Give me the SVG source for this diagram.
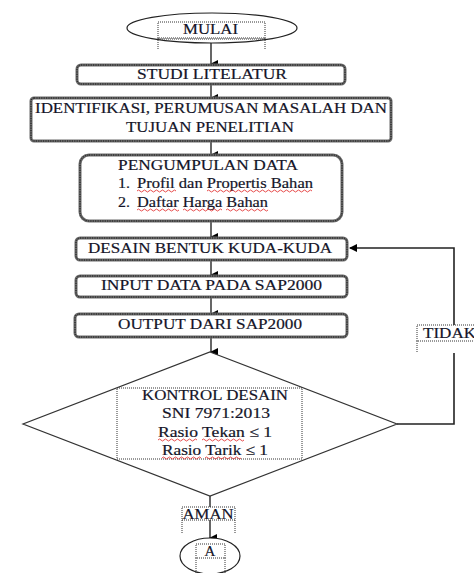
<svg xmlns="http://www.w3.org/2000/svg" width="474" height="573" viewBox="0 0 474 573">
<defs>
<marker id="ah" markerWidth="8" markerHeight="8" refX="4" refY="7" orient="auto" markerUnits="userSpaceOnUse" viewBox="0 0 8 8">
<path d="M0,0 L8,0 L4,8 Z" fill="#000"/>
</marker>
<marker id="al" markerWidth="8" markerHeight="8" refX="7" refY="4" orient="auto" markerUnits="userSpaceOnUse" viewBox="0 0 8 8">
<path d="M0,0 L8,4 L0,8 Z" fill="#000"/>
</marker>
</defs>
<style>
text{font-family:"Liberation Serif","Times New Roman",serif;font-size:15px;fill:#141428;stroke:#141428;stroke-width:0.2}
.c{text-anchor:middle}
.outer{fill:#fff;stroke:#6a6a6a;stroke-width:3}
.inner{fill:none;stroke:#111;stroke-width:1;stroke-dasharray:1.2 1.2}
.dot{fill:none;stroke:#333;stroke-width:1;stroke-dasharray:1 1}
.ln{fill:none;stroke:#000;stroke-width:1.2}
.fb{fill:none;stroke:#222;stroke-width:1.6}
.sq{fill:none;stroke:#e02020;stroke-width:0.8}
</style>
<rect width="474" height="573" fill="#fff"/>
<g id="connectors">
<line class="ln" x1="211" y1="43" x2="211" y2="64" marker-end="url(#ah)"/>
<line class="ln" x1="211" y1="84" x2="211" y2="98" marker-end="url(#ah)"/>
<line class="ln" x1="211" y1="141" x2="211" y2="155" marker-end="url(#ah)"/>
<line class="ln" x1="211" y1="221" x2="211" y2="237" marker-end="url(#ah)"/>
<line class="ln" x1="211" y1="260" x2="211" y2="275" marker-end="url(#ah)"/>
<line class="ln" x1="211" y1="297" x2="211" y2="314" marker-end="url(#ah)"/>
<line class="ln" x1="211" y1="337" x2="211" y2="352" marker-end="url(#ah)"/>
<polyline class="fb" points="397,424 454,424 454,353"/>
<polyline class="fb" points="454,325 454,248 350,248" marker-end="url(#al)"/>
<line class="ln" x1="210" y1="496" x2="210" y2="507"/>
<line class="ln" x1="210" y1="520" x2="210" y2="538" marker-end="url(#ah)"/>
</g>
<g id="mulai">
<ellipse cx="212" cy="28" rx="85" ry="15" fill="#fff" stroke="#222" stroke-width="1.2"/>
<rect class="dot" x="158" y="22" width="107" height="16"/>
<line class="dot" x1="158" y1="39" x2="265" y2="39"/>
<line class="dot" x1="158" y1="38" x2="158" y2="50"/>
<line class="dot" x1="265" y1="38" x2="265" y2="50"/>
<text class="c" x="210.5" y="34" textLength="55" lengthAdjust="spacingAndGlyphs">MULAI</text>
</g>
<g id="studi">
<rect class="outer" x="77" y="65" width="268" height="19" rx="4"/>
<rect class="inner" x="77" y="65" width="268" height="19" rx="4"/>
<text class="c" x="212" y="79" textLength="150" lengthAdjust="spacingAndGlyphs">STUDI LITELATUR</text>
</g>
<g id="identifikasi">
<rect class="outer" x="31" y="98" width="360" height="43" rx="3"/>
<rect class="inner" x="31" y="98" width="360" height="43" rx="3"/>
<text class="c" x="211" y="113" textLength="352" lengthAdjust="spacingAndGlyphs">IDENTIFIKASI, PERUMUSAN MASALAH DAN</text>
<text class="c" x="210" y="132" textLength="168" lengthAdjust="spacingAndGlyphs">TUJUAN PENELITIAN</text>
</g>
<g id="pengumpulan">
<rect class="outer" x="80" y="155" width="262" height="66" rx="9"/>
<rect class="inner" x="80" y="155" width="262" height="66" rx="9"/>
<text class="c" x="208" y="170" textLength="180" lengthAdjust="spacingAndGlyphs">PENGUMPULAN DATA</text>
<text x="118" y="188" textLength="12" lengthAdjust="spacingAndGlyphs">1.</text>
<text x="137" y="188" textLength="176" lengthAdjust="spacingAndGlyphs">Profil dan Propertis Bahan</text>
<text x="118" y="207" textLength="12" lengthAdjust="spacingAndGlyphs">2.</text>
<text x="137" y="207" textLength="131" lengthAdjust="spacingAndGlyphs">Daftar Harga Bahan</text>
<path class="sq" d="M137,191 q1.5,-2 3,0 t3,0 t3,0 t3,0 t3,0 t3,0 t3,0 t3,0 t3,0 t3,0 t3,0 t3,0 t3,0"/>
<path class="sq" d="M207,191 q1.5,-2 3,0 t3,0 t3,0 t3,0 t3,0 t3,0 t3,0 t3,0 t3,0 t3,0 t3,0 t3,0 t3,0 t3,0 t3,0 t3,0 t3,0 t3,0 t3,0 t3,0 t3,0 t3,0 t3,0 t3,0 t3,0 t3,0 t3,0 t3,0 t3,0 t3,0 t3,0 t3,0 t3,0 t3,0 t3,0"/>
<path class="sq" d="M137,210 q1.5,-2 3,0 t3,0 t3,0 t3,0 t3,0 t3,0 t3,0 t3,0 t3,0 t3,0 t3,0 t3,0 t3,0 t3,0"/>
<path class="sq" d="M183,210 q1.5,-2 3,0 t3,0 t3,0 t3,0 t3,0 t3,0 t3,0 t3,0 t3,0 t3,0 t3,0 t3,0 t3,0"/>
<path class="sq" d="M226,210 q1.5,-2 3,0 t3,0 t3,0 t3,0 t3,0 t3,0 t3,0 t3,0 t3,0 t3,0 t3,0 t3,0 t3,0 t3,0"/>
</g>
<g id="desain">
<rect class="outer" x="76" y="238" width="271" height="22" rx="4"/>
<rect class="inner" x="76" y="238" width="271" height="22" rx="4"/>
<text class="c" x="210" y="253" textLength="244" lengthAdjust="spacingAndGlyphs">DESAIN BENTUK KUDA-KUDA</text>
</g>
<g id="input">
<rect class="outer" x="76" y="276" width="271" height="21" rx="4"/>
<rect class="inner" x="76" y="276" width="271" height="21" rx="4"/>
<text class="c" x="211.5" y="290" textLength="221" lengthAdjust="spacingAndGlyphs">INPUT DATA PADA SAP2000</text>
</g>
<g id="output">
<rect class="outer" x="75" y="314" width="272" height="23" rx="4"/>
<rect class="inner" x="75" y="314" width="272" height="23" rx="4"/>
<text class="c" x="210" y="329" textLength="184" lengthAdjust="spacingAndGlyphs">OUTPUT DARI SAP2000</text>
</g>
<g id="kontrol">
<polygon points="210,352 397,424 210,496 23,424" fill="#fff" stroke="#333" stroke-width="1.2"/>
<rect class="dot" x="117" y="388" width="185" height="71"/>
<text class="c" x="215" y="400" textLength="146" lengthAdjust="spacingAndGlyphs">KONTROL DESAIN</text>
<text class="c" x="216" y="418" textLength="108" lengthAdjust="spacingAndGlyphs">SNI 7971:2013</text>
<text class="c" x="215" y="437" textLength="114" lengthAdjust="spacingAndGlyphs">Rasio Tekan ≤ 1</text>
<text class="c" x="215" y="455" textLength="106" lengthAdjust="spacingAndGlyphs">Rasio Tarik ≤ 1</text>
<path class="sq" d="M158,440 q1.5,-2 3,0 t3,0 t3,0 t3,0 t3,0 t3,0 t3,0 t3,0 t3,0 t3,0 t3,0 t3,0 t3,0"/>
<path class="sq" d="M202,440 q1.5,-2 3,0 t3,0 t3,0 t3,0 t3,0 t3,0 t3,0 t3,0 t3,0 t3,0 t3,0 t3,0 t3,0 t3,0"/>
<path class="sq" d="M162,458 q1.5,-2 3,0 t3,0 t3,0 t3,0 t3,0 t3,0 t3,0 t3,0 t3,0 t3,0 t3,0 t3,0 t3,0"/>
<path class="sq" d="M205,458 q1.5,-2 3,0 t3,0 t3,0 t3,0 t3,0 t3,0 t3,0 t3,0 t3,0 t3,0 t3,0 t3,0"/>
</g>
<g id="tidak">
<rect class="dot" x="417" y="325" width="62" height="16" fill="#fff"/>
<line class="dot" x1="417" y1="341" x2="417" y2="353"/>
<text x="423" y="338" textLength="53" lengthAdjust="spacingAndGlyphs">TIDAK</text>
</g>
<g id="aman">
<rect class="dot" x="182" y="507" width="53" height="13" fill="#fff"/>
<line class="dot" x1="182" y1="520" x2="182" y2="533"/>
<line class="dot" x1="235" y1="520" x2="235" y2="533"/>
<text class="c" x="208" y="519" textLength="51" lengthAdjust="spacingAndGlyphs">AMAN</text>
</g>
<g id="a">
<ellipse cx="210" cy="556" rx="30" ry="18" fill="#fff" stroke="#222" stroke-width="1.2"/>
<rect class="dot" x="196" y="544" width="29" height="14"/>
<line class="dot" x1="196" y1="558" x2="196" y2="573"/>
<line class="dot" x1="225" y1="558" x2="225" y2="573"/>
<text class="c" x="210" y="556">A</text>
</g>
</svg>
